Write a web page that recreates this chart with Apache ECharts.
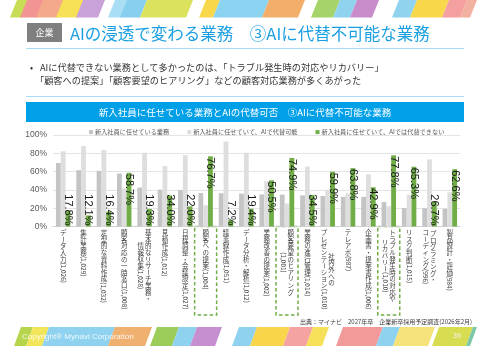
<!DOCTYPE html>
<html><head><meta charset="utf-8">
<script src="https://cdn.jsdelivr.net/npm/echarts@6/dist/echarts.min.js"></script>
<style>html,body{margin:0;padding:0;background:#fff}#c{width:490px;height:346px}</style>
</head><body><div id="c"></div>
<script>
// ---- data ----
const categories = [
  'データ入力(1,026)',
  '集計業務(1,029)',
  '定型的な資料作成(1,032)',
  '顧客対応の一時窓口(1,008)',
  '基本的なリサーチ業務・\n情報収集(1,028)',
  '見積作成(1,012)',
  '日程調整・会議設定(1,027)',
  '顧客への提案(1,004)',
  '議事録作成(1,051)',
  'データ分析・解析(1,012)',
  '業務改善の提案(1,002)',
  '顧客要望のヒアリング\n(1,001)',
  '業務の進行管理(1,014)',
  '社内外への\nプレゼンテーション(1,010)',
  'テレアポ(987)',
  '企画書・提案書作成(1,006)',
  'トラブル発生時の対応や\nリカバリー(1,010)',
  'リスク判断(1,015)',
  'プログラミング・\nコーディング(996)',
  '製品設計・評価(984)'
];
const seriesNames = [
  '新入社員に任せている業務',
  '新入社員に任せていて、AIで代替可能',
  '新入社員に任せていて、AIでは代替できない'
];
const assigned   = [69.3, 61.5, 60.8, 57.9, 42.5, 40.3, 39.8, 36.6, 36.4, 35.9, 35.0, 34.8, 34.0, 33.3, 32.5, 32.4, 26.7, 20.3, 19.9, 19.3];
const replaceable = [82.2, 87.9, 83.6, 41.3, 80.7, 66.0, 78.0, 23.3, 92.8, 80.6, 49.5, 25.1, 65.5, 40.1, 36.2, 57.1, 22.2, 34.7, 73.3, 37.4];
const notReplaceable = [17.8, 12.1, 16.4, 58.7, 19.3, 34.0, 22.0, 76.7, 7.2, 19.4, 50.5, 74.9, 34.5, 59.9, 63.8, 42.9, 77.8, 65.3, 26.7, 62.6];
const yTicks = [0, 20, 40, 60, 80, 100];
const highlighted = [7, 11, 16];

const titleText = 'AIの浸透で変わる業務　③AIに代替不可能な業務';
const tagText = '企業';
const bulletLines = [
  'AIに代替できない業務として多かったのは、「トラブル発生時の対応やリカバリー」',
  '「顧客への提案」「顧客要望のヒアリング」などの顧客対応業務が多くあがった'
];
const headerText = '新入社員に任せている業務とAIの代替可否　③AIに代替不可能な業務';
const sourceText = '出典：マイナビ　2027年卒　企業新卒採用予定調査(2026年2月)';
const footerText = 'Copyright® Mynavi Corporation';
const pageNo = '39';

// ---- chart ----
const JP = '"Noto Sans CJK JP", "Noto Sans", sans-serif';
const NUM = '"Liberation Sans", Arial, sans-serif';
const chart = echarts.init(document.getElementById('c'), null, {renderer: 'canvas'});

const barLabelBase = {show: true, rotate: -90, fontSize: 11, color: '#1a1a1a', fontFamily: NUM,
  formatter: p => p.value.toFixed(1) + '%'};

const option = {
  animation: false,
  backgroundColor: '#fff',
  grid: {left: 53, right: 30, top: 135, bottom: 119.5, containLabel: false},
  legend: {
    left: 84, top: 124, itemWidth: 4, itemHeight: 4, itemGap: 18, icon: 'rect',
    textStyle: {fontSize: 6.2, color: '#595959', fontFamily: JP, padding: [0, 0, 0, -3]},
    data: seriesNames
  },
  xAxis: {
    type: 'category', data: categories,
    axisLine: {lineStyle: {color: '#d0d0d0'}},
    axisTick: {show: false},
    axisLabel: {show: false}
  },
  yAxis: {
    type: 'value', min: yTicks[0], max: yTicks[yTicks.length - 1], interval: 20,
    axisLine: {show: false}, axisTick: {show: false},
    splitLine: {lineStyle: {color: '#e4e4e4'}},
    axisLabel: {formatter: '{value}%', fontSize: 8.5, color: '#595959', margin: 6, fontFamily: NUM}
  },
  series: [
    {name: seriesNames[0], type: 'bar', data: assigned, barGap: '0%', barCategoryGap: '29%',
     itemStyle: {color: '#c4c4c4'}},
    {name: seriesNames[1], type: 'bar', data: replaceable, barGap: '0%', barCategoryGap: '29%',
     itemStyle: {color: '#dedede'}},
    {name: seriesNames[2], type: 'bar', barGap: '0%', barCategoryGap: '29%',
     itemStyle: {color: '#70ad47'},
     data: notReplaceable.map(v => ({
       value: v,
       label: Object.assign({}, barLabelBase, v >= 35
         ? {position: 'insideTop', align: 'left', verticalAlign: 'middle', distance: 1}
         : {position: 'insideBottom', align: 'right', verticalAlign: 'middle', distance: 1})
     })),
     label: barLabelBase}
  ]
};
chart.setOption(option);

// ---- graphics ----
const ctx = document.createElement('canvas').getContext('2d');
function measure(t, size, fam) { ctx.font = size + 'px ' + (fam || JP); return ctx.measureText(t).width; }

const els = [];
function stripes(list, yt, yb, slant) {
  list.forEach(s => {
    els.push({type: 'polygon', silent: true,
      shape: {points: [[s[0], yb], [s[1], yb], [s[1] + slant, yt], [s[0] + slant, yt]]},
      style: {fill: s[2]}});
  });
}
stripes([
  [10, 22, '#c9dc55'], [20, 38, '#f29494'], [36, 58, '#f4a98a'], [56, 78, '#f6e156'],
  [76, 98, '#c8a2d8'], [108, 122, '#a9dff4'], [120, 140, '#86cfef'], [140, 186, '#dbe25e'],
  [199, 213, '#f8d84a'], [213, 262, '#8ad3f1'], [262, 298, '#f3ae6a'], [311, 333, '#a6d46a'],
  [333, 350, '#8fd3ef'], [350, 372, '#c88ccb'], [392, 410, '#8fd3ef'], [410, 442, '#f8d74a'],
  [442, 460, '#f4a0a0'], [460, 470, '#f2b0a0']
], 0, 17.5, 7);
stripes([
  [14, 26, '#b6d44c'], [26, 42, '#f2e55a'], [42, 108, '#8ed2f0'], [108, 145, '#efb070'],
  [150, 172, '#9ccc5a'], [172, 190, '#8ed2f0'], [190, 215, '#c58fd0'], [232, 250, '#8ed2f0'],
  [250, 283, '#f8d54a'], [283, 306, '#f4a2a2'], [306, 322, '#f6e05a'], [336, 376, '#f29a9a'],
  [376, 393, '#8ed2f0'], [393, 428, '#f6e27a'], [432, 466, '#d8dc50'], [466, 470, '#7cc8a8']
], 327, 346, 7);

els.push({type: 'rect', shape: {x: 27, y: 23, width: 35, height: 19}, style: {fill: '#7f7f7f'}});
els.push({type: 'text', x: 44.5, y: 32.5, style: {text: tagText, fill: '#fff', fontSize: 9, fontFamily: JP, align: 'center', verticalAlign: 'middle'}});
els.push({type: 'text', x: 70, y: 33.5, style: {text: titleText, fill: '#1a9fe3', fontSize: 16.5, fontFamily: JP, align: 'left', verticalAlign: 'middle'}});
els.push({type: 'line', shape: {x1: 26, y1: 48.5, x2: 464, y2: 48.5}, style: {stroke: '#a8dcf5', lineWidth: 1}});
els.push({type: 'text', x: 30, y: 67.5, style: {text: '•', fill: '#333', fontSize: 9, fontFamily: JP, align: 'left', verticalAlign: 'middle'}});
els.push({type: 'text', x: 40, y: 67.5, style: {text: bulletLines[0], fill: '#333', fontSize: 9.2, fontFamily: JP, align: 'left', verticalAlign: 'middle'}});
els.push({type: 'text', x: 35, y: 80.5, style: {text: bulletLines[1], fill: '#333', fontSize: 9.2, fontFamily: JP, align: 'left', verticalAlign: 'middle'}});
els.push({type: 'line', shape: {x1: 26, y1: 96.5, x2: 464, y2: 96.5}, style: {stroke: '#a8dcf5', lineWidth: 1}});
els.push({type: 'rect', shape: {x: 26, y: 102, width: 438, height: 20}, style: {fill: '#00a0e9'}});
els.push({type: 'text', x: 245, y: 112, style: {text: headerText, fill: '#fff', fontSize: 9.5, fontFamily: JP, align: 'center', verticalAlign: 'middle'}});
els.push({type: 'text', x: 472, y: 322, style: {text: sourceText, fill: '#404040', fontSize: 6, fontFamily: JP, align: 'right', verticalAlign: 'middle'}});
els.push({type: 'text', x: 22, y: 336.5, style: {text: footerText, fill: 'rgba(255,255,255,0.85)', fontSize: 8, fontFamily: NUM, align: 'left', verticalAlign: 'middle'}});
els.push({type: 'text', x: 453, y: 336.5, style: {text: pageNo, fill: '#f2f2f2', fontSize: 7, fontFamily: NUM, align: 'left', verticalAlign: 'middle'}});

const FS = 6.5, P = 6.6, G = 7.5;
const y0 = chart.convertToPixel({yAxisIndex: 0}, 0);
function segs(col) {
  const out = [];
  for (const ch of col) {
    const rot = ch.charCodeAt(0) < 0x2000 || ch === 'ー';
    const last = out[out.length - 1];
    if (last && last.rot === rot) last.text += ch; else out.push({rot, text: ch});
  }
  out.forEach(s => { s.len = s.rot ? measure(s.text, FS) : [...s.text].length * P; });
  return out;
}
categories.forEach((c, i) => {
  const cx = chart.convertToPixel({xAxisIndex: 0}, i);
  const cols = c.split('\n').map(segs);
  const lens = cols.map(sg => sg.reduce((a, s) => a + s.len, 0));
  const maxLen = Math.max(...lens);
  const top = y0 + 3;
  cols.forEach((sg, k) => {
    const colX = cx + (cols.length - 1) / 2 * G - k * G;
    let yy = top + (maxLen - lens[k]) / 2;
    sg.forEach(s => {
      if (s.rot) {
        els.push({type: 'text', x: colX, y: yy, rotation: -Math.PI / 2,
          style: {text: s.text, fontSize: FS, fontFamily: JP, fill: '#404040', align: 'left', verticalAlign: 'middle'}});
      } else {
        els.push({type: 'text', x: colX, y: yy,
          style: {text: [...s.text].join('\n'), fontSize: FS, lineHeight: P, fontFamily: JP, fill: '#404040', align: 'center', verticalAlign: 'top'}});
      }
      yy += s.len;
    });
  });
  if (highlighted.includes(i)) {
    els.push({type: 'rect', shape: {x: cx - 11, y: y0, width: 22, height: 315 - y0},
      style: {fill: 'none', stroke: '#70ad47', lineWidth: 1.5, lineDash: [3.5, 2.5]}});
  }
});

chart.setOption({graphic: {elements: els}});
</script>
</body></html>
